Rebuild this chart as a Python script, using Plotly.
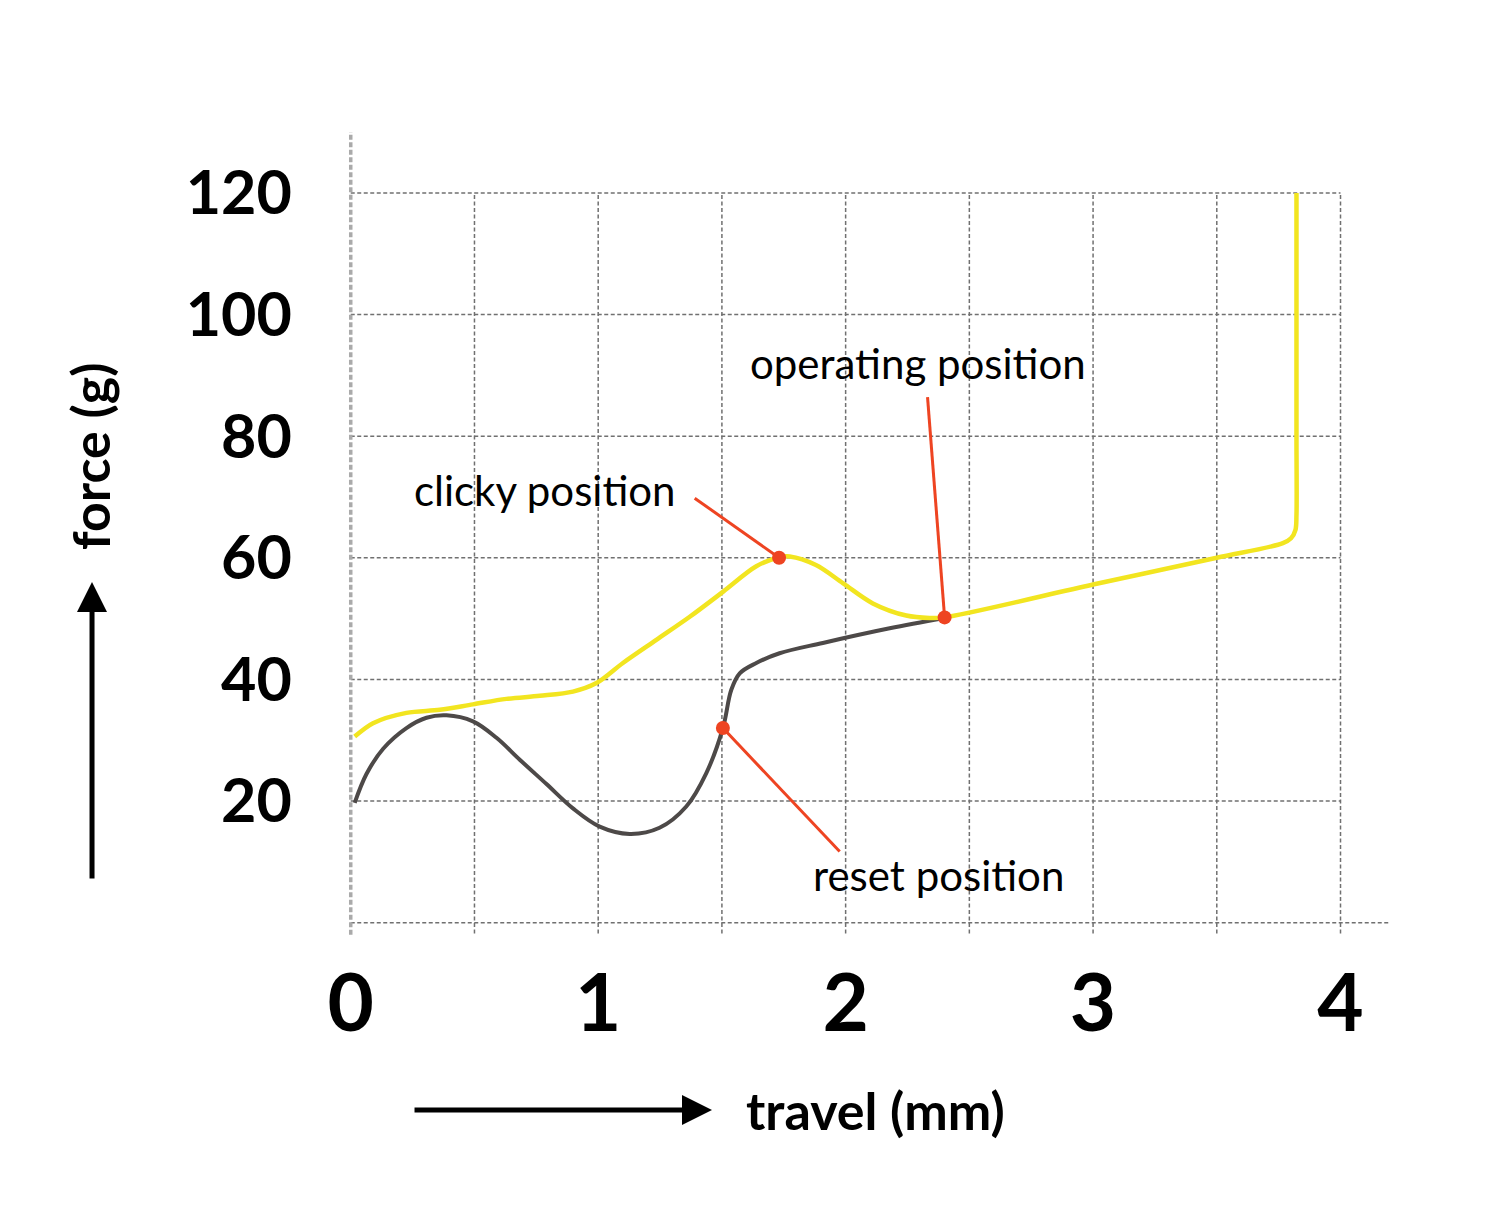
import plotly.graph_objects as go

# press curve (yellow) - travel mm / force g
press_x = [0.016, 0.09, 0.225, 0.36, 0.494, 0.629, 0.764, 0.898, 0.993, 1.1, 1.235,
           1.37, 1.504, 1.639, 1.733, 1.774, 1.88, 1.99, 2.11, 2.245, 2.339, 2.4,
           3.0, 3.5, 3.767, 3.80, 3.818, 3.822, 3.822, 3.822]
press_y = [30.6, 32.8, 34.5, 35.0, 35.9, 36.8, 37.3, 38.0, 39.4, 42.7, 46.5,
           50.3, 54.4, 58.6, 60.1, 60.2, 58.8, 55.8, 52.5, 50.5, 50.1, 50.2,
           55.6, 60.0, 62.4, 63.2, 64.6, 67.0, 80.0, 120.0]

# release curve (dark)
release_x = [0.016, 0.063, 0.131, 0.225, 0.306, 0.387, 0.494, 0.589, 0.683, 0.791,
             0.898, 1.006, 1.127, 1.248, 1.356, 1.437, 1.504, 1.538, 1.572, 1.639,
             1.733, 1.908, 2.178, 2.4]
release_y = [19.7, 24.4, 28.6, 32.0, 33.7, 34.1, 33.1, 30.4, 26.8, 22.8,
             18.8, 15.8, 14.6, 15.6, 19.1, 24.6, 32.0, 38.3, 41.0, 42.7,
             44.3, 46.0, 48.4, 50.1]

# marked positions and where their labels sit
point_names = ["clicky position", "operating position", "reset position"]
point_x = [1.731, 2.40, 1.504]
point_y = [60.0, 50.2, 32.0]
leader_x = [1.39, 2.331, 1.976]
leader_y = [69.8, 86.4, 11.7]
label_x = [0.784, 2.293, 2.376]
label_y = [71.2, 92.0, 7.9]

x_ticks = [0, 1, 2, 3, 4]
y_ticks = [20, 40, 60, 80, 100, 120]
x_grid = [0.5, 1, 1.5, 2, 2.5, 3, 3.5, 4]

YELLOW = "#f2e520"
DARK = "#4d4948"
RED = "#ee4422"
GRID = "#707070"

fig = go.Figure()

fig.add_trace(go.Scatter(x=release_x, y=release_y, mode="lines",
                         line=dict(color=DARK, width=4, shape="spline", smoothing=1.0),
                         hoverinfo="skip"))
fig.add_trace(go.Scatter(x=press_x, y=press_y, mode="lines",
                         line=dict(color=YELLOW, width=4.5, shape="spline", smoothing=0.9),
                         hoverinfo="skip"))

for i in range(len(point_names)):
    fig.add_trace(go.Scatter(x=[leader_x[i], point_x[i]], y=[leader_y[i], point_y[i]],
                             mode="lines", line=dict(color=RED, width=3), hoverinfo="skip"))
fig.add_trace(go.Scatter(x=point_x, y=point_y, mode="markers",
                         marker=dict(color=RED, size=14), hoverinfo="skip"))

# grid drawn by hand: verticals stop at 120, horizontals at 4
shapes = []
for gx in x_grid:
    shapes.append(dict(type="line", xref="x", yref="y", x0=gx, x1=gx, y0=-1.8, y1=120,
                       line=dict(color=GRID, width=1.5, dash="4px,2.5px"), layer="below"))
for gy in y_ticks:
    shapes.append(dict(type="line", xref="x", yref="y", x0=0, x1=4, y0=gy, y1=gy,
                       line=dict(color=GRID, width=1.5, dash="4px,2.5px"), layer="below"))
shapes.append(dict(type="line", xref="x", yref="y", x0=0, x1=4.2, y0=0, y1=0,
                   line=dict(color=GRID, width=1.5, dash="4px,2.5px"), layer="below"))
shapes.append(dict(type="line", xref="x", yref="y", x0=0, x1=0, y0=-2, y1=130,
                   line=dict(color="#aaaaaa", width=3.5, dash="5px,2.5px"), layer="below"))

annotations = []
for i in range(len(point_names)):
    annotations.append(dict(x=label_x[i], y=label_y[i], xref="x", yref="y",
                            text=point_names[i], showarrow=False,
                            font=dict(family="Lato", size=42, color="#000000")))

# axis titles with their arrows
annotations.append(dict(x=0.3628, y=-0.1985, xref="paper", yref="paper", text="",
                        showarrow=True, ax=-299, ay=0, arrowhead=2, arrowsize=1.2,
                        arrowwidth=5, arrowcolor="#000000"))
annotations.append(dict(x=-0.2199, y=0.4446, xref="paper", yref="paper", text="",
                        showarrow=True, ax=0, ay=298, arrowhead=2, arrowsize=1.2,
                        arrowwidth=5, arrowcolor="#000000"))
annotations.append(dict(x=0.3929, y=-0.1985, xref="paper", yref="paper",
                        text="travel (mm)", showarrow=False, xanchor="left", yanchor="middle",
                        font=dict(family="Lato", size=52, color="#000000", weight="bold")))
annotations.append(dict(x=-0.2218, y=0.5968, xref="paper", yref="paper",
                        text="force (g)", showarrow=False, textangle=-90,
                        xanchor="center", yanchor="middle",
                        font=dict(family="Lato", size=52, color="#000000", weight="bold")))

fig.update_layout(
    width=1478, height=1198,
    margin=dict(l=318, r=96, t=118, b=259),
    paper_bgcolor="white", plot_bgcolor="white",
    showlegend=False,
    shapes=shapes,
    annotations=annotations,
    xaxis=dict(range=[-0.1, 4.2], tickvals=x_ticks, ticktext=[str(v) for v in x_ticks],
               showgrid=False, zeroline=False, showline=False,
               ticks="", ticklabelstandoff=3,
               tickfont=dict(family="Lato", size=80, color="#000000", weight="bold")),
    yaxis=dict(range=[-4, 131], tickvals=y_ticks, ticktext=[str(v) for v in y_ticks],
               showgrid=False, zeroline=False, showline=False,
               ticks="outside", ticklen=21, tickcolor="rgba(0,0,0,0)",
               tickfont=dict(family="Lato", size=61, color="#000000", weight="bold")),
)

fig.write_html("out.html")
